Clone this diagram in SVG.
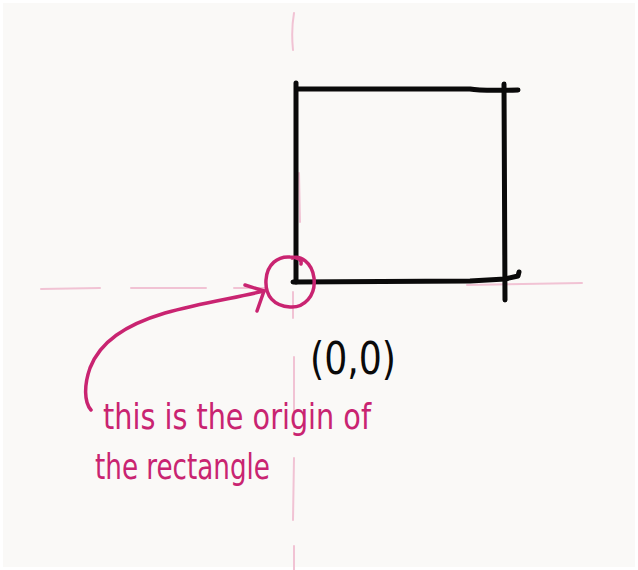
<svg xmlns="http://www.w3.org/2000/svg" width="638" height="570" viewBox="0 0 638 570">
  <style>
    .axis { stroke: #f1c3d4; stroke-width: 2; fill: none; stroke-linecap: round; }
    .ink { stroke: #0a0a0a; stroke-width: 5; fill: none; stroke-linecap: round; stroke-linejoin: round; }
    .pink { stroke: #c92471; stroke-width: 3.5; fill: none; stroke-linecap: round; stroke-linejoin: round; }
    .note { font-family: "DejaVu Sans Condensed", "Liberation Sans", sans-serif; fill: #c92471; font-size: 36px; }
    .coord { font-family: "DejaVu Sans Condensed", "Liberation Sans", sans-serif; fill: #0a0a0a; font-size: 44px; }
  </style>
  <rect x="0" y="0" width="638" height="570" fill="#ffffff"/>
  <rect x="3" y="3" width="632" height="564" fill="#faf9f7"/>

  <g id="axes">
    <path class="axis" d="M41 289 L100 288 M131 288 L206 288 M234 288 L266 288"/>
    <path class="axis" d="M467 285 L582 283"/>
    <path class="axis" d="M294 13 Q291 30 293 50 M299 173 L300 222 M293 292 L293 318 M294 357 L294 427 M294 458 L293 520 M294 546 L294 570"/>
  </g>

  <g id="rectangle">
    <path class="ink" d="M296 83 L296 282"/>
    <path class="ink" d="M297 89 L470 89 Q480 91 518 90"/>
    <path class="ink" d="M504 84 L505 300"/>
    <path class="ink" d="M293 282 L470 281 L505 279 L518 276 L519 272"/>
  </g>

  <g id="origin-marker">
    <path class="pink" d="M292 258 C300 255 312 262 314 278 C316 296 304 308 290 307 C274 306 265 296 266 280 C267 264 278 256 290 257 C298 257 302 260 301 264"/>
  </g>

  <g id="connectors">
    <path class="pink" d="M91 410 C84 402 84 385 90 368 C100 342 125 325 165 313 C200 303 235 298 264 291"/>
    <path class="pink" d="M245 285 L264 291 L257 311"/>
  </g>

  <g id="label-origin">
    <text class="coord" x="310" y="374" textLength="86" lengthAdjust="spacingAndGlyphs">(0,0)</text>
  </g>

  <g id="note">
    <text class="note" x="103" y="429" textLength="268" lengthAdjust="spacingAndGlyphs">this is the origin of</text>
    <text class="note" x="95" y="479" textLength="175" lengthAdjust="spacingAndGlyphs">the rectangle</text>
  </g>
</svg>
